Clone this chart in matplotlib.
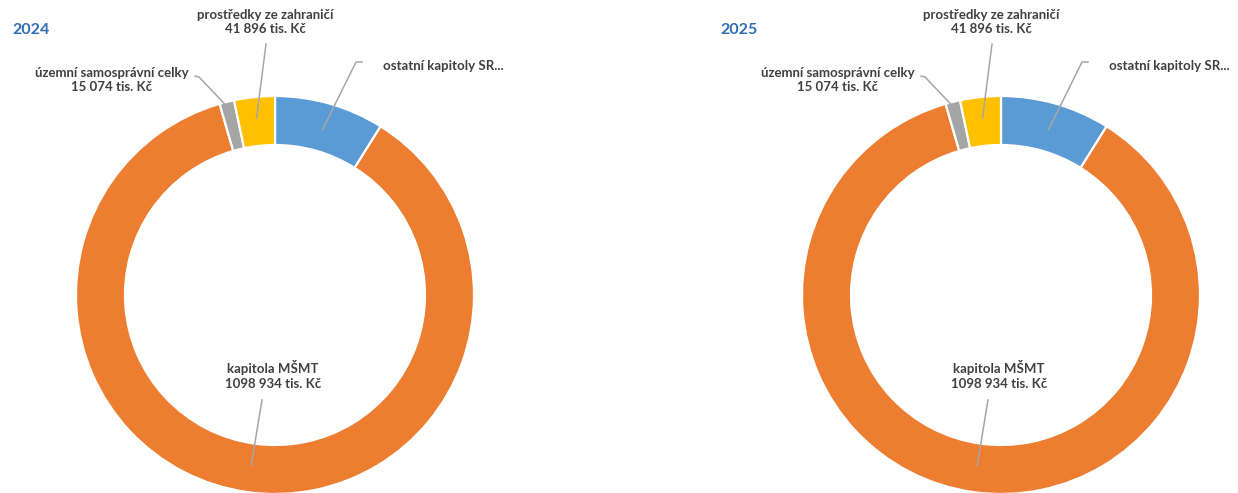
import numpy as np
import matplotlib.pyplot as plt

plt.rcParams['font.family'] = ['Lato', 'DejaVu Sans']

# data (tis. Kč); value of "ostatní kapitoly SR" is cut off in the source, estimated from the slice
years = ['2024', '2025']
categories = ['ostatní kapitoly SR...', 'kapitola MŠMT', 'územní samosprávní celky', 'prostředky ze zahraničí']
values_2024 = [113000, 1098934, 15074, 41896]
values_2025 = [113000, 1098934, 15074, 41896]
value_labels = ['', '1098 934 tis. Kč', '15 074 tis. Kč', '41 896 tis. Kč']
colors = ['#5B9BD5', '#ED7D31', '#A5A5A5', '#FFC000']

W, H = 1238, 493
R_OUT, RING = 199, 49
TXT = '#404040'
LINE = '#A6A6A6'

# label layout relative to donut centre (image pixels, y down):
# text pos, ha, leader start, elbow (or None), radius where leader ends
label_layout = [
    ((108, -229), 'left', (87, -233), (81, -233), 172),
    ((-2, 80), 'center', (-13, 105), None, 172),
    ((-163, -215), 'center', (-80, -219), (-76, -218), 193),
    ((-10, -273), 'center', (-9, -251), None, 178),
]

fig = plt.figure(figsize=(12.38, 4.93), dpi=100)
ax = fig.add_axes([0, 0, 1, 1])


def draw_donut(ax, values, cx, cy, year, title_x):
    yd = H - cy
    wedges, _ = ax.pie(values, colors=colors, startangle=90, counterclock=False,
                       center=(cx, yd), radius=R_OUT,
                       wedgeprops=dict(width=RING, edgecolor='white', linewidth=1.6))
    ax.text(title_x, H - 30, year, color='#2E6DB4', fontsize=11.5,
            fontweight='bold', ha='left', va='center')
    for w, cat, val, lay in zip(wedges, categories, value_labels, label_layout):
        (tx, ty), ha, (sx, sy), elbow, r_end = lay
        mid = np.deg2rad((w.theta1 + w.theta2) / 2)
        ex = cx + r_end * np.cos(mid)
        ey = yd + r_end * np.sin(mid)
        pts = [(cx + sx, yd - sy)]
        if elbow is not None:
            pts.append((cx + elbow[0], yd - elbow[1]))
        pts.append((ex, ey))
        xs, ys = zip(*pts)
        ax.plot(xs, ys, color=LINE, lw=1.1, zorder=5)
        txt = cat if not val else cat + '\n' + val
        ax.text(cx + tx, yd - ty, txt, ha=ha, va='center', color=TXT,
                fontsize=9.5, fontweight='bold', linespacing=1.25, zorder=6)


draw_donut(ax, values_2024, 275, 295, years[0], 12)
draw_donut(ax, values_2025, 1001, 295, years[1], 720)

ax.set_xlim(0, W)
ax.set_ylim(0, H)
ax.set_aspect('equal')
ax.axis('off')

fig.savefig('out.png', dpi=100, facecolor='white')
